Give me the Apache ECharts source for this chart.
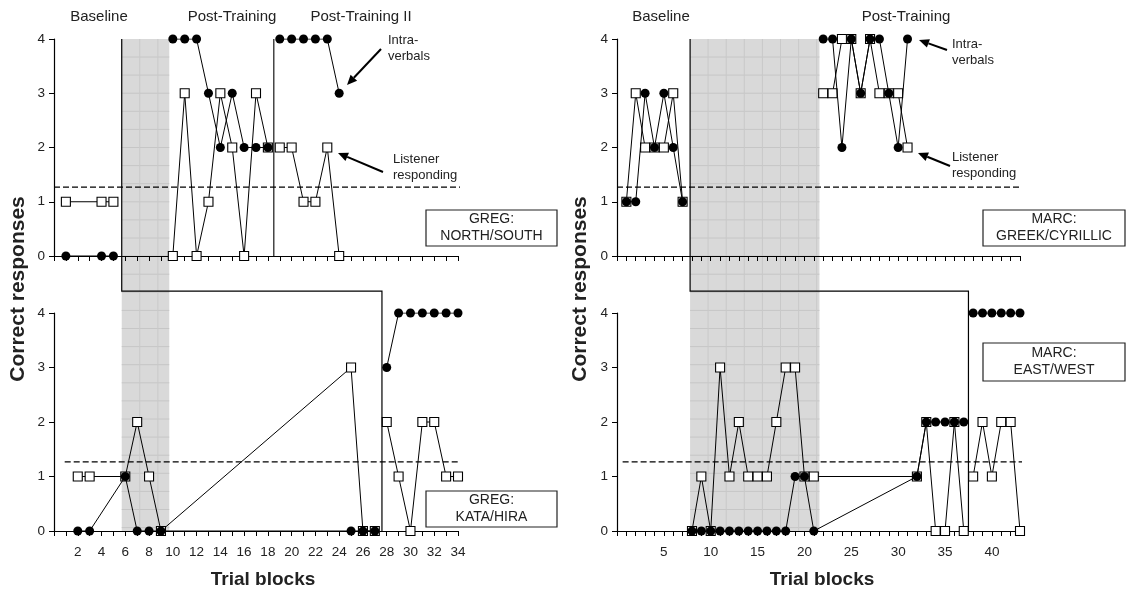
<!DOCTYPE html>
<html><head><meta charset="utf-8">
<script src="https://cdn.jsdelivr.net/npm/echarts@6/dist/echarts.min.js"></script>
<style>html,body{margin:0;padding:0;background:#fff}#c{width:1131px;height:593px}</style>
</head><body><div id="c"></div>
<script>
// ---------- DATA ----------
// GREG: NORTH/SOUTH (top-left)
const gnsBaseBlocks = [1, 4, 5];
const gnsBaseIntra  = [0, 0, 0];
const gnsBaseListen = [1, 1, 1];
const gnsPostBlocks = [10, 11, 12, 13, 14, 15, 16, 17, 18];
const gnsPostIntra  = [4, 4, 4, 3, 2, 3, 2, 2, 2];
const gnsPostListen = [0, 3, 0, 1, 3, 2, 0, 3, 2];
const gnsPost2Blocks = [19, 20, 21, 22, 23, 24];
const gnsPost2Intra  = [4, 4, 4, 4, 4, 3];
const gnsPost2Listen = [2, 2, 1, 1, 2, 0];
// GREG: KATA/HIRA (bottom-left)
const gkhBaseBlocks = [2, 3, 6, 7, 8, 9, 25, 26, 27];
const gkhBaseIntra  = [0, 0, 1, 0, 0, 0, 0, 0, 0];
const gkhBaseListen = [1, 1, 1, 2, 1, 0, 3, 0, 0];
const gkhPostBlocks = [28, 29, 30, 31, 32, 33, 34];
const gkhPostIntra  = [3, 4, 4, 4, 4, 4, 4];
const gkhPostListen = [2, 1, 0, 2, 2, 1, 1];
// MARC: GREEK/CYRILLIC (top-right)
const mgcBaseBlocks = [1, 2, 3, 4, 5, 6, 7];
const mgcBaseIntra  = [1, 1, 3, 2, 3, 2, 1];
const mgcBaseListen = [1, 3, 2, 2, 2, 3, 1];
const mgcPostBlocks = [22, 23, 24, 25, 26, 27, 28, 29, 30, 31];
const mgcPostIntra  = [4, 4, 2, 4, 3, 4, 4, 3, 2, 4];
const mgcPostListen = [3, 3, 4, 4, 3, 4, 3, 3, 3, 2];
// MARC: EAST/WEST (bottom-right)
const mewBaseBlocks = [8, 9, 10, 11, 12, 13, 14, 15, 16, 17, 18, 19, 20, 21, 32, 33, 34, 35, 36, 37];
const mewBaseIntra  = [0, 0, 0, 0, 0, 0, 0, 0, 0, 0, 0, 1, 1, 0, 1, 2, 2, 2, 2, 2];
const mewBaseListen = [0, 1, 0, 3, 1, 2, 1, 1, 1, 2, 3, 3, 1, 1, 1, 2, 0, 0, 2, 0];
const mewPostBlocks = [38, 39, 40, 41, 42, 43];
const mewPostIntra  = [4, 4, 4, 4, 4, 4];
const mewPostListen = [1, 2, 1, 2, 2, 0];

const criterion = 1.27;
const gregXMax = 34, marcXMax = 43;
const gregTrainStart = 5.7, gregTrainEnd = 9.7, gregNSPhase2 = 18.5, gregKHPost = 27.6;
const marcTrainStart = 7.8, marcTrainEnd = 21.6, marcEWPost = 37.5;
const panelNames = ['GREG:\nNORTH/SOUTH', 'GREG:\nKATA/HIRA', 'MARC:\nGREEK/CYRILLIC', 'MARC:\nEAST/WEST'];

// ---------- CHART ----------
const FONT = "'Liberation Sans', Arial, sans-serif";
const chart = echarts.init(document.getElementById('c'), null, {renderer: 'canvas'});

const grids = [
  {left: 54, top: 39, width: 404, height: 217},
  {left: 54, top: 313, width: 404, height: 218},
  {left: 617, top: 39, width: 403, height: 217},
  {left: 617, top: 313, width: 403, height: 218}
];

function xAx(gi, max, showLabels, step) {
  return {
    gridIndex: gi, type: 'value', min: 0, max: max, interval: 1,
    axisLine: {lineStyle: {color: '#000', width: 1.2}},
    axisTick: {show: true, length: 5, lineStyle: {color: '#000', width: 1}},
    axisLabel: {show: showLabels, margin: 14, fontSize: 13.5, color: '#222', fontFamily: FONT,
      formatter: v => (v > 0 && v % step === 0) ? String(v) : ''},
    splitLine: {show: false}
  };
}
function yAx(gi) {
  return {
    gridIndex: gi, type: 'value', min: 0, max: 4, interval: 1,
    axisLine: {show: true, lineStyle: {color: '#000', width: 1.2}},
    axisTick: {show: true, length: 5, lineStyle: {color: '#000', width: 1}},
    axisLabel: {margin: 9, fontSize: 13.5, color: '#222', fontFamily: FONT},
    splitLine: {show: false}
  };
}

const series = [];
function add(gi, xs, ys, kind) {
  const data = xs.map((x, i) => [x, ys[i]]);
  if (kind === 'listen') {
    series.push({type: 'line', xAxisIndex: gi, yAxisIndex: gi, data, symbol: 'rect', symbolSize: 9,
      showAllSymbol: true, z: 3, lineStyle: {color: '#000', width: 1},
      itemStyle: {color: '#fff', borderColor: '#000', borderWidth: 1.1}});
  } else {
    series.push({type: 'line', xAxisIndex: gi, yAxisIndex: gi, data, symbol: 'circle', symbolSize: 9,
      showAllSymbol: true, z: 4, lineStyle: {color: '#000', width: 1},
      itemStyle: {color: '#000'}});
  }
}
function dashed(gi, x1, x2) {
  series.push({type: 'line', xAxisIndex: gi, yAxisIndex: gi, clip: false, showSymbol: false, silent: true, z: 1,
    data: [[x1, criterion], [x2, criterion]], lineStyle: {color: '#000', width: 1.2, type: [6, 3]}});
}

add(0, gnsBaseBlocks, gnsBaseListen, 'listen'); add(0, gnsBaseBlocks, gnsBaseIntra, 'intra');
add(0, gnsPostBlocks, gnsPostListen, 'listen'); add(0, gnsPostBlocks, gnsPostIntra, 'intra');
add(0, gnsPost2Blocks, gnsPost2Listen, 'listen'); add(0, gnsPost2Blocks, gnsPost2Intra, 'intra');
add(1, gkhBaseBlocks, gkhBaseListen, 'listen'); add(1, gkhBaseBlocks, gkhBaseIntra, 'intra');
add(1, gkhPostBlocks, gkhPostListen, 'listen'); add(1, gkhPostBlocks, gkhPostIntra, 'intra');
add(2, mgcBaseBlocks, mgcBaseListen, 'listen'); add(2, mgcBaseBlocks, mgcBaseIntra, 'intra');
add(2, mgcPostBlocks, mgcPostListen, 'listen'); add(2, mgcPostBlocks, mgcPostIntra, 'intra');
add(3, mewBaseBlocks, mewBaseListen, 'listen'); add(3, mewBaseBlocks, mewBaseIntra, 'intra');
add(3, mewPostBlocks, mewPostListen, 'listen'); add(3, mewPostBlocks, mewPostIntra, 'intra');
dashed(0, 0, 35.45); dashed(1, 0.9, 35.2); dashed(2, 0, 44.9); dashed(3, 0.6, 44.4);
// phase change line in top-left panel
series.push({type: 'line', xAxisIndex: 0, yAxisIndex: 0, showSymbol: false, silent: true, z: 2,
  data: [[gregNSPhase2, 0], [gregNSPhase2, 4]], lineStyle: {color: '#000', width: 1.1}});

chart.setOption({
  animation: false,
  backgroundColor: '#fff',
  grid: grids,
  xAxis: [xAx(0, gregXMax, false, 2), xAx(1, gregXMax, true, 2), xAx(2, marcXMax, false, 5), xAx(3, marcXMax, true, 5)],
  yAxis: [yAx(0), yAx(1), yAx(2), yAx(3)],
  series
});

// ---------- ANNOTATIONS ----------
const P = (gi, x, y) => chart.convertToPixel({gridIndex: gi}, [x, y]);
const g = [];

function shade(topGi, botGi, xa, xb) {
  const [x1, y1] = P(topGi, xa, 4);
  const x2 = P(topGi, xb, 4)[0];
  const y2 = P(botGi, 0, 0)[1];
  g.push({type: 'rect', z: -10, shape: {x: x1, y: y1, width: x2 - x1, height: y2 - y1}, style: {fill: '#d9d9d9'}});
  for (let y = y1 + 18; y < y2; y += 18.1) {
    g.push({type: 'line', z: -9, shape: {x1: x1, y1: y, x2: x2, y2: y}, style: {stroke: '#c6c6c6', lineWidth: 1}});
  }
  for (let x = x1 + 18; x < x2 - 2; x += 18.1) {
    g.push({type: 'line', z: -9, shape: {x1: x, y1: y1, x2: x, y2: y2}, style: {stroke: '#c9c9c9', lineWidth: 1}});
  }
}
shade(0, 1, gregTrainStart, gregTrainEnd);
shade(2, 3, marcTrainStart, marcTrainEnd);

function step(topGi, botGi, xa, xb) {
  const [x1, y1] = P(topGi, xa, 4);
  const ys = P(botGi, 0, 4.4)[1];
  const x2 = P(botGi, xb, 0)[0];
  const yb = P(botGi, 0, 0)[1];
  g.push({type: 'polyline', z: 5, shape: {points: [[x1, y1], [x1, ys], [x2, ys], [x2, yb]]},
    style: {stroke: '#000', lineWidth: 1.2, fill: null}});
}
step(0, 1, gregTrainStart, gregKHPost);
step(2, 3, marcTrainStart, marcEWPost);

function txt(x, y, s, opt) {
  g.push(Object.assign({type: 'text', z: 10, x, y, style: Object.assign({text: s, fill: '#222', font: '15px ' + FONT,
    textAlign: 'center', textVerticalAlign: 'middle'}, opt || {})}));
}
txt(99, 17, 'Baseline');
txt(232, 17, 'Post-Training');
txt(361, 17, 'Post-Training II');
txt(661, 17, 'Baseline');
txt(906, 17, 'Post-Training');

txt(263, 580, 'Trial blocks', {font: 'bold 19px ' + FONT});
txt(822, 580, 'Trial blocks', {font: 'bold 19px ' + FONT});
g.push({type: 'text', z: 10, x: 18, y: 289, rotation: Math.PI / 2,
  style: {text: 'Correct responses', fill: '#222', font: 'bold 21px ' + FONT, textAlign: 'center', textVerticalAlign: 'middle'}});
g.push({type: 'text', z: 10, x: 580, y: 289, rotation: Math.PI / 2,
  style: {text: 'Correct responses', fill: '#222', font: 'bold 21px ' + FONT, textAlign: 'center', textVerticalAlign: 'middle'}});

function box(x, y, w, h, s) {
  g.push({type: 'rect', z: 10, shape: {x, y, width: w, height: h}, style: {fill: '#fff', stroke: '#222', lineWidth: 1.2}});
  g.push({type: 'text', z: 11, x: x + w / 2, y: y + h / 2, style: {text: s, fill: '#222', font: '14px ' + FONT,
    textAlign: 'center', textVerticalAlign: 'middle', lineHeight: 17}});
}
box(426, 210, 131, 36, panelNames[0]);
box(426, 491, 131, 36, panelNames[1]);
box(983, 210, 142, 36, panelNames[2]);
box(983, 343, 142, 38, panelNames[3]);

function note(x, y, s) {
  g.push({type: 'text', z: 10, x, y, style: {text: s, fill: '#222', font: '13px ' + FONT,
    textAlign: 'left', textVerticalAlign: 'middle', lineHeight: 16}});
}
note(388, 48, 'Intra-\nverbals');
note(393, 167, 'Listener\nresponding');
note(952, 52, 'Intra-\nverbals');
note(952, 165, 'Listener\nresponding');

function arrow(x1, y1, x2, y2) {
  const a = Math.atan2(y2 - y1, x2 - x1), L = 10, W = 4.5;
  const bx = x2 - L * Math.cos(a), by = y2 - L * Math.sin(a);
  g.push({type: 'line', z: 10, shape: {x1, y1, x2: bx, y2: by}, style: {stroke: '#000', lineWidth: 2}});
  g.push({type: 'polygon', z: 10, shape: {points: [[x2, y2],
    [bx + W * Math.sin(a), by - W * Math.cos(a)], [bx - W * Math.sin(a), by + W * Math.cos(a)]]}, style: {fill: '#000'}});
}
arrow(381, 49, 347, 85);
arrow(383, 172, 338, 153);
arrow(947, 50, 919, 40);
arrow(950, 166, 918, 153);

chart.setOption({graphic: {elements: g}});
</script></body></html>
